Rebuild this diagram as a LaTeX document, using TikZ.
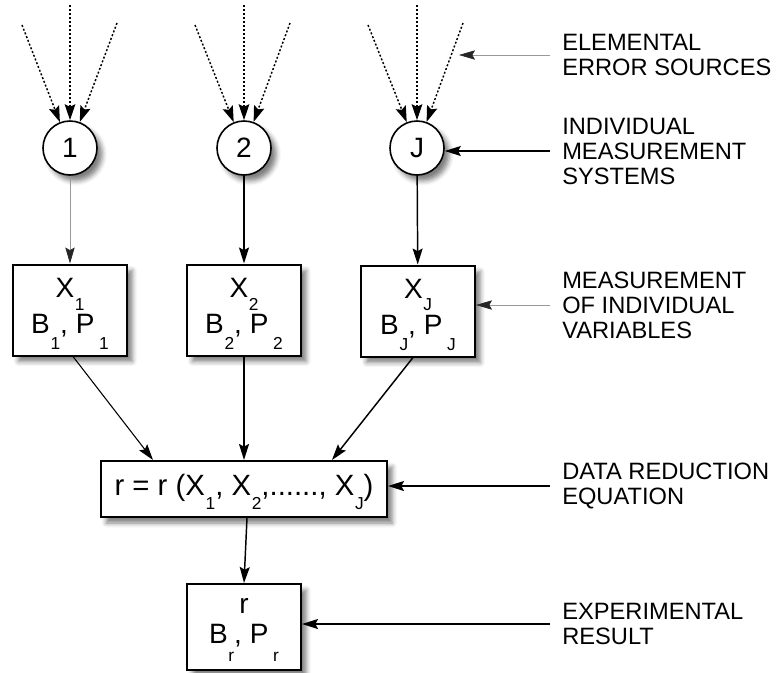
\documentclass[tikz,border=0pt]{standalone}
\usepackage{fontspec}
\setmainfont{Liberation Sans}
\usetikzlibrary{arrows.meta,shadows.blur,calc}

% subscript: #1 = drop below the baseline
\newcommand\sbx[2][11pt]{\kern0.5pt\raisebox{-#1}{\fontsize{13pt}{14pt}\selectfont #2}}
\newcommand\strt[1]{\rule{0pt}{#1}}

\tikzset{
  shad/.style={blur shadow={shadow xshift=4pt,shadow yshift=-4.5pt,shadow blur radius=3.5pt,shadow opacity=50}},
  sysnode/.style={circle, draw, line width=1.2pt, fill=white, minimum size=40.5pt, inner sep=0pt,
    font=\fontsize{21pt}{24pt}\selectfont, shad},
  varbox/.style={draw, line width=1.5pt, fill=white, minimum width=85.5pt, minimum height=68.25pt,
    inner sep=0pt, align=center, font=\fontsize{21pt}{27pt}\selectfont, shad},
  drebox/.style={draw, line width=1.5pt, fill=white, minimum width=214.5pt, minimum height=42pt,
    inner sep=0pt, font=\fontsize{22pt}{26pt}\selectfont, shad},
  resbox/.style={draw, line width=1.5pt, fill=white, minimum width=85.5pt, minimum height=64.5pt,
    inner sep=0pt, align=center, font=\fontsize{21pt}{22.5pt}\selectfont, shad},
  lbl/.style={anchor=west, inner sep=0pt, align=left, font=\fontsize{17.75pt}{18.75pt}\selectfont},
  arr/.style={-{Stealth[length=12pt,width=7.5pt,inset=2pt]}, line width=1.1pt},
  garr/.style={-{Stealth[length=12pt,width=7pt,inset=2pt,color=black!85]}, line width=0.5pt, draw=black!40},
  darr/.style={-{Stealth[length=12pt,width=8pt,inset=2pt]}, line width=1.1pt, dash pattern=on 1.5pt off 1.5pt},
}

\begin{document}
\begin{tikzpicture}[x=0.75pt,y=-0.75pt]
\useasboundingbox (0,0) rectangle (778,672);

% circles
\node[sysnode] (c1) at (70,148) {1};
\node[sysnode] (c2) at (244,148) {2};
\node[sysnode] (cJ) at (417,148) {J};

% error-source starts
\coordinate (s1a) at (22,25);  \coordinate (s1b) at (70,5);  \coordinate (s1c) at (117,23);
\coordinate (s2a) at (195,25); \coordinate (s2b) at (244,5); \coordinate (s2c) at (290,23);
\coordinate (sJa) at (368,25); \coordinate (sJb) at (417,5); \coordinate (sJc) at (463,23);

\foreach \c in {1,2,J}{
  \draw[darr] (s\c a) -- (c\c);
  \draw[darr] (s\c b) -- (c\c);
  \draw[darr] (s\c c) -- (c\c);
}

% variable boxes
\node[varbox] (b1) at (70,310) {\strt{20pt}X\sbx[9.5pt]{1}\\B\sbx[12pt]{1}, P\kern3pt\sbx[12pt]{1}};
\node[varbox] (b2) at (244,310) {\strt{20pt}X\sbx[9.5pt]{2}\\B\sbx[12pt]{2}, P\kern3pt\sbx[12pt]{2}};
\node[varbox] (bJ) at (418,311) {\strt{20pt}X\sbx[9.5pt]{J}\\B\sbx[12pt]{J}, P\kern3pt\sbx[12pt]{J}};

\draw[garr] (c1) -- (b1);
\draw[arr] (c2) -- (b2);
\draw[arr] (cJ) -- (bJ);

% data reduction equation
\node[drebox] (d) at (244,489) {\strt{21pt}r = r (X\sbx[10.5pt]{1}, X\sbx[10.5pt]{2},......, X\sbx[10.5pt]{J})};

\draw[arr, line width=0.8pt] ($(b1.south)+(3,0)$) -- ($(d.north)+(-91,0)$);
\draw[arr] (b2.south) -- (d.north);
\draw[arr] ($(bJ.south)+(-5,0)$) -- ($(d.north)+(88,0)$);

% result
\node[resbox] (r) at (244,627) {\strt{15.5pt}r\\B\sbx[14pt]{r}, P\kern3pt\sbx[14pt]{r}};
\draw[arr] ($(d.south)+(3,0)$) -- (r.north);

% labels
\node[lbl] (l1) at (562,55) {ELEMENTAL\\ERROR SOURCES};
\node[lbl] (l2) at (562,151) {INDIVIDUAL\\MEASUREMENT\\SYSTEMS};
\node[lbl] (l3) at (562,305) {MEASUREMENT\\OF INDIVIDUAL\\VARIABLES};
\node[lbl] (l4) at (562,486) {DATA REDUCTION\\EQUATION};
\node[lbl] (l5) at (562,624) {EXPERIMENTAL\\RESULT};

\coordinate (e1) at (459,55);
\draw[garr] ([xshift=-9pt]l1.west) -- (e1);
\draw[arr] ([xshift=-9pt]l2.west) -- (l2.west -| cJ.east);
\draw[garr] ([xshift=-9pt]l3.west) -- (l3.west -| bJ.east);
\draw[arr] ([xshift=-9pt]l4.west) -- (l4.west -| d.east);
\draw[arr] ([xshift=-9pt]l5.west) -- (l5.west -| r.east);
\end{tikzpicture}
\end{document}
